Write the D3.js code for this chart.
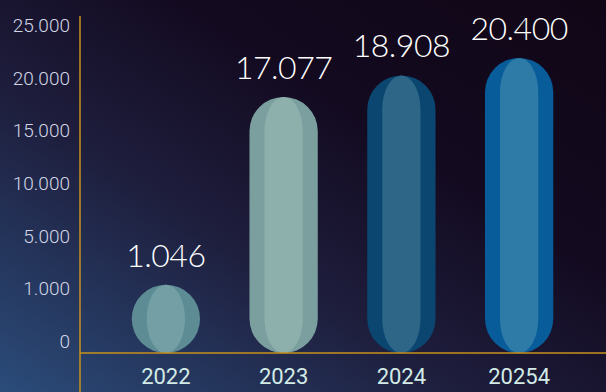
<!DOCTYPE html>
<html>
<head>
<meta charset="utf-8">
<script src="https://cdn.jsdelivr.net/npm/d3@7"></script>
<style>
  html, body { margin: 0; padding: 0; background: #120818; }
  svg { display: block; }
</style>
</head>
<body>
<div id="chart"></div>
<script>
var years = ["2022", "2023", "2024", "20254"];
var values = [1046, 17077, 18908, 20400];
var tickLabels = ["0", "1.000", "5.000", "10.000", "15.000", "20.000", "25.000"];
var outerColors = ["#5d8c95", "#7b9f9e", "#0a4670", "#075c99"];
var innerColors = ["#74a0a5", "#8db0ad", "#2e6688", "#2f7ba7"];

var width = 606, height = 392;
var axisX = 80, baseY = 353;

var svg = d3.select("#chart").append("svg")
    .attr("width", width)
    .attr("height", height);

// background
var grad = svg.append("defs").append("linearGradient")
    .attr("id", "bg")
    .attr("x1", "0%").attr("y1", "100%")
    .attr("x2", "100%").attr("y2", "0%");
grad.append("stop").attr("offset", "0%").attr("stop-color", "#2b4c7a");
grad.append("stop").attr("offset", "38%").attr("stop-color", "#1e1e3d");
grad.append("stop").attr("offset", "65%").attr("stop-color", "#130a20");
grad.append("stop").attr("offset", "100%").attr("stop-color", "#110616");

svg.append("rect")
    .attr("width", width)
    .attr("height", height)
    .attr("fill", "url(#bg)");

var x = d3.scaleBand()
    .domain(years)
    .range([107, 578])
    .paddingInner(0.42)
    .paddingOuter(0.21);

var y = d3.scaleLinear()
    .domain([0, 20400])
    .range([297, 58]);

var yTicks = d3.scalePoint()
    .domain(tickLabels)
    .range([348, 32]);

// y tick labels
svg.append("g").selectAll("text")
    .data(tickLabels)
    .enter().append("text")
    .attr("x", 70)
    .attr("y", function (d) { return yTicks(d); })
    .attr("text-anchor", "end")
    .attr("font-family", "Roboto, sans-serif")
    .attr("font-weight", 300)
    .attr("font-size", 19)
    .attr("fill", "#d3d6e6")
    .text(function (d) { return d; });

// bars
var bars = svg.append("g").selectAll("g")
    .data(values)
    .enter().append("g");

var bw = x.bandwidth();

bars.append("rect")
    .attr("x", function (d, i) { return x(years[i]); })
    .attr("y", function (d) { return y(d); })
    .attr("width", bw)
    .attr("height", function (d) { return baseY - y(d); })
    .attr("rx", bw / 2)
    .attr("ry", bw / 2)
    .attr("fill", function (d, i) { return outerColors[i]; });

bars.append("rect")
    .attr("x", function (d, i) { return x(years[i]) + bw * 0.22; })
    .attr("y", function (d) { return y(d); })
    .attr("width", bw * 0.56)
    .attr("height", function (d) { return baseY - y(d); })
    .attr("rx", bw * 0.28)
    .attr("ry", bw / 2)
    .attr("fill", function (d, i) { return innerColors[i]; });

// value labels
bars.append("text")
    .attr("x", function (d, i) { return x(years[i]) + bw / 2; })
    .attr("y", function (d) { return y(d) - 18; })
    .attr("text-anchor", "middle")
    .attr("font-family", "Lato, sans-serif")
    .attr("font-weight", 300)
    .attr("font-size", 32)
    .attr("letter-spacing", -0.5)
    .attr("fill", "#ffffff")
    .text(function (d) { return d3.format(",")(d).replace(/,/g, "."); });

// axis lines
svg.append("line")
    .attr("x1", axisX).attr("x2", axisX)
    .attr("y1", 16).attr("y2", height)
    .attr("stroke", "#c9921c")
    .attr("stroke-width", 1.5);

svg.append("line")
    .attr("x1", axisX).attr("x2", width)
    .attr("y1", baseY).attr("y2", baseY)
    .attr("stroke", "#c9921c")
    .attr("stroke-width", 1.5);

// x labels
svg.append("g").selectAll("text")
    .data(years)
    .enter().append("text")
    .attr("x", function (d) { return x(d) + bw / 2; })
    .attr("y", 384)
    .attr("text-anchor", "middle")
    .attr("font-family", "Roboto, sans-serif")
    .attr("font-size", 22)
    .attr("fill", "#d3ebe6")
    .text(function (d) { return d; });
</script>
</body>
</html>
